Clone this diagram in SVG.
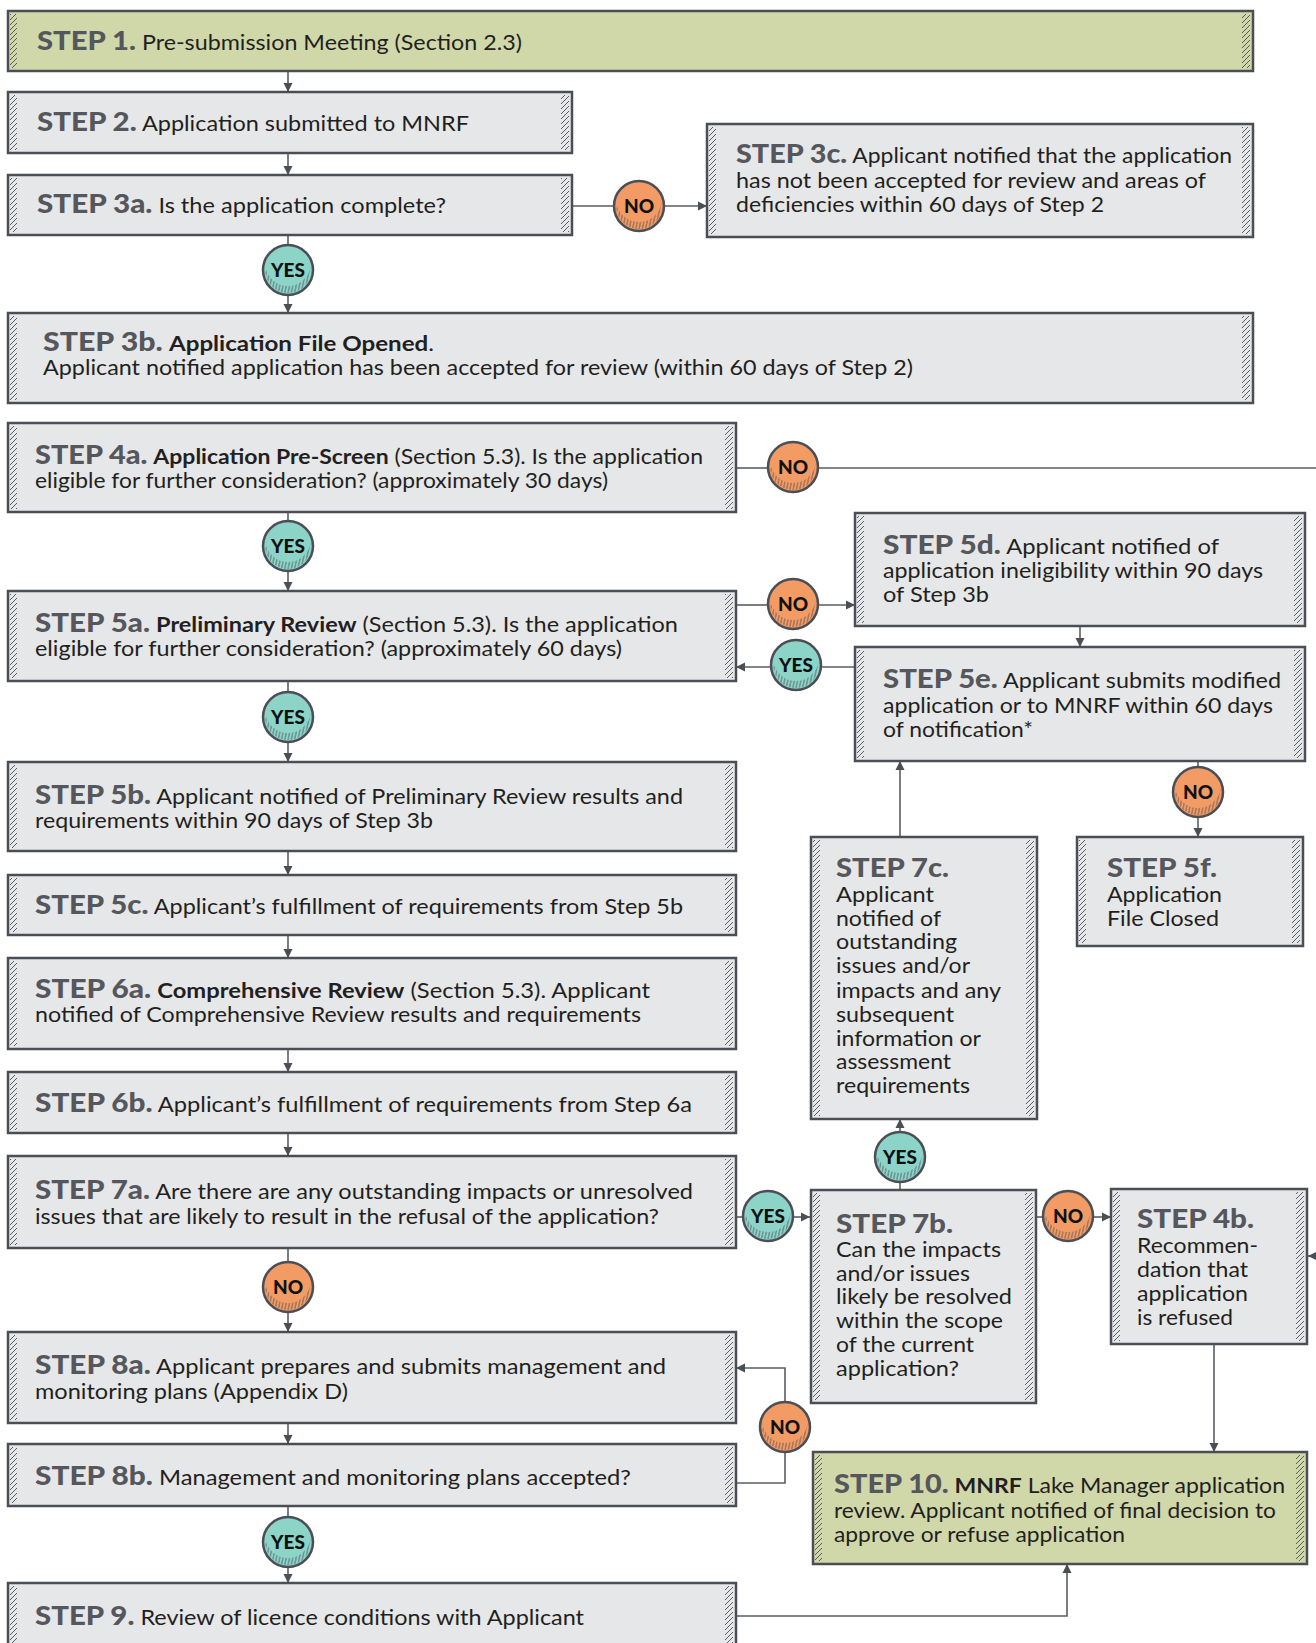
<svg xmlns="http://www.w3.org/2000/svg" xmlns:xlink="http://www.w3.org/1999/xlink" width="1316" height="1643" viewBox="0 0 1316 1643">
<style>
.box{fill:#e6e7e8;stroke:#4b4e55;stroke-width:2.5}
.green{fill:#d0d8aa}
.hl{fill:url(#hh)}
.c{fill:none;stroke:#5a5d63;stroke-width:1.6}
.ca{fill:none;stroke:#5a5d63;stroke-width:1.6;marker-end:url(#ah)}
text{font-family:"Lato","Liberation Sans",sans-serif;font-size:21.5px;fill:#231f20}
.l{font-weight:900;font-size:27px;fill:#55575c}
.b{font-weight:700;fill:#231f20}
.ct{font-weight:900;font-size:19px;fill:#111;text-anchor:middle}
</style>
<defs>
<pattern id="hh" width="5" height="5" patternUnits="userSpaceOnUse"><path d="M-1,1 L1,-1 M0,5 L5,0 M4,6 L6,4" stroke="#4b4e55" stroke-width="0.9"/></pattern>
<pattern id="ch" width="3.2" height="14" patternUnits="userSpaceOnUse" patternTransform="rotate(12)"><path d="M1.6,0 V14" stroke="#4b4e55" stroke-width="0.8"/></pattern>
<marker id="ah" markerWidth="10" markerHeight="10" refX="9" refY="5" orient="auto" markerUnits="userSpaceOnUse"><path d="M0,0.5 L9,5 L0,9.5 Z" fill="#4b4e55"/></marker>
<g id="noC"><circle r="25" fill="#f39b64" stroke="#4b4e55" stroke-width="2.5"/><path d="M-22.73,-3.5 A23,23 0 1 0 22.73,-3.5 A23,23 0 0 1 -22.73,-3.5 Z" fill="url(#ch)"/></g>
<g id="yesC"><circle r="25" fill="#8cd3c8" stroke="#4b4e55" stroke-width="2.5"/><path d="M-22.73,-3.5 A23,23 0 1 0 22.73,-3.5 A23,23 0 0 1 -22.73,-3.5 Z" fill="url(#ch)"/></g>
</defs>
<rect x="0" y="0" width="1316" height="1643" fill="#fff"/>

<g id="connectors">
<path class="ca" d="M288,71 V92"/>
<path class="ca" d="M288,153 V175"/>
<path class="c" d="M572,206 H614"/>
<path class="ca" d="M664,206 H707"/>
<path class="c" d="M288,235 V245"/>
<path class="ca" d="M288,295 V313"/>
<path class="c" d="M736,468 H768"/>
<path class="c" d="M818,468 H1316"/>
<path class="c" d="M288,512 V521"/>
<path class="ca" d="M288,571 V591"/>
<path class="c" d="M736,605 H768"/>
<path class="ca" d="M818,605 H855"/>
<path class="ca" d="M1080,626 V647"/>
<path class="c" d="M855,667 H821"/>
<path class="ca" d="M771,667 H736"/>
<path class="c" d="M288,681 V692"/>
<path class="ca" d="M288,742 V762"/>
<path class="ca" d="M288,851 V875"/>
<path class="ca" d="M288,935 V958"/>
<path class="ca" d="M288,1049 V1072"/>
<path class="ca" d="M288,1133 V1156"/>
<path class="c" d="M736,1217 H743"/>
<path class="ca" d="M793,1217 H810"/>
<path class="c" d="M900,1190 V1182"/>
<path class="ca" d="M900,1132 V1119"/>
<path class="ca" d="M900,837 V761"/>
<path class="c" d="M1198,761 V767"/>
<path class="ca" d="M1198,817 V837"/>
<path class="c" d="M1036,1217 H1043"/>
<path class="ca" d="M1093,1217 H1111"/>
<path class="ca" d="M1214,1344 V1452"/>
<path class="ca" d="M1320,1256 H1308"/>
<path class="c" d="M288,1248 V1262"/>
<path class="ca" d="M288,1312 V1332"/>
<path class="ca" d="M288,1423 V1444"/>
<path class="c" d="M736,1483 H785 V1452"/>
<path class="ca" d="M785,1402 V1368 H736"/>
<path class="c" d="M288,1506 V1517"/>
<path class="ca" d="M288,1567 V1583"/>
<path class="ca" d="M736,1616 H1067 V1564"/>
</g>

<g id="decisions">
<g id="no-3a"><use href="#noC" x="639" y="206"/><text class="ct" x="639" y="213">NO</text></g>
<g id="yes-3a"><use href="#yesC" x="288" y="270"/><text class="ct" x="288" y="277">YES</text></g>
<g id="no-4a"><use href="#noC" x="793" y="467"/><text class="ct" x="793" y="474">NO</text></g>
<g id="yes-4a"><use href="#yesC" x="288" y="546"/><text class="ct" x="288" y="553">YES</text></g>
<g id="no-5a"><use href="#noC" x="793" y="604"/><text class="ct" x="793" y="611">NO</text></g>
<g id="yes-5e"><use href="#yesC" x="796" y="665"/><text class="ct" x="796" y="672">YES</text></g>
<g id="yes-5a"><use href="#yesC" x="288" y="717"/><text class="ct" x="288" y="724">YES</text></g>
<g id="no-5e"><use href="#noC" x="1198" y="792"/><text class="ct" x="1198" y="799">NO</text></g>
<g id="yes-7b"><use href="#yesC" x="900" y="1157"/><text class="ct" x="900" y="1164">YES</text></g>
<g id="yes-7a"><use href="#yesC" x="768" y="1216"/><text class="ct" x="768" y="1223">YES</text></g>
<g id="no-7b"><use href="#noC" x="1068" y="1216"/><text class="ct" x="1068" y="1223">NO</text></g>
<g id="no-7a"><use href="#noC" x="288" y="1287"/><text class="ct" x="288" y="1294">NO</text></g>
<g id="no-8b"><use href="#noC" x="785" y="1427"/><text class="ct" x="785" y="1434">NO</text></g>
<g id="yes-8b"><use href="#yesC" x="288" y="1542"/><text class="ct" x="288" y="1549">YES</text></g>
</g>

<g id="step1"><rect class="box green" x="8" y="11" width="1245" height="60"/><rect class="hl" x="10" y="14" width="7" height="54"/><rect class="hl" x="1242" y="14" width="8" height="54"/>
<text x="37" y="50" textLength="485" lengthAdjust="spacingAndGlyphs"><tspan class="l">STEP 1.</tspan> Pre-submission Meeting (Section 2.3)</text></g>

<g id="step2"><rect class="box" x="8" y="92" width="564" height="61"/><rect class="hl" x="10" y="95" width="7" height="55"/><rect class="hl" x="561" y="95" width="8" height="55"/>
<text x="37" y="131" textLength="432" lengthAdjust="spacingAndGlyphs"><tspan class="l">STEP 2.</tspan> Application submitted to MNRF</text></g>

<g id="step3a"><rect class="box" x="8" y="175" width="564" height="60"/><rect class="hl" x="10" y="178" width="7" height="54"/><rect class="hl" x="561" y="178" width="8" height="54"/>
<text x="37" y="213" textLength="409" lengthAdjust="spacingAndGlyphs"><tspan class="l">STEP 3a.</tspan> Is the application complete?</text></g>

<g id="step3c"><rect class="box" x="707" y="124" width="546" height="113"/><rect class="hl" x="709" y="127" width="7" height="107"/><rect class="hl" x="1242" y="127" width="8" height="107"/>
<text x="736" y="163" textLength="496" lengthAdjust="spacingAndGlyphs"><tspan class="l">STEP 3c.</tspan> Applicant notified that the application</text>
<text x="736" y="188" textLength="470" lengthAdjust="spacingAndGlyphs">has not been accepted for review and areas of</text>
<text x="736" y="212" textLength="368" lengthAdjust="spacingAndGlyphs">deficiencies within 60 days of Step 2</text></g>

<g id="step3b"><rect class="box" x="8" y="313" width="1245" height="90"/><rect class="hl" x="10" y="316" width="7" height="84"/><rect class="hl" x="1242" y="316" width="8" height="84"/>
<text x="43" y="351" textLength="391" lengthAdjust="spacingAndGlyphs"><tspan class="l">STEP 3b.</tspan> <tspan class="b">Application File Opened</tspan>.</text>
<text x="43" y="375" textLength="870" lengthAdjust="spacingAndGlyphs">Applicant notified application has been accepted for review (within 60 days of Step 2)</text></g>

<g id="step4a"><rect class="box" x="8" y="423" width="728" height="89"/><rect class="hl" x="10" y="426" width="7" height="83"/><rect class="hl" x="725" y="426" width="8" height="83"/>
<text x="35" y="464" textLength="668" lengthAdjust="spacingAndGlyphs"><tspan class="l">STEP 4a.</tspan> <tspan class="b">Application Pre-Screen</tspan> (Section 5.3). Is the application</text>
<text x="35" y="488" textLength="573" lengthAdjust="spacingAndGlyphs">eligible for further consideration? (approximately 30 days)</text></g>

<g id="step5d"><rect class="box" x="855" y="513" width="450" height="113"/><rect class="hl" x="857" y="516" width="7" height="107"/><rect class="hl" x="1294" y="516" width="8" height="107"/>
<text x="883" y="554" textLength="336" lengthAdjust="spacingAndGlyphs"><tspan class="l">STEP 5d.</tspan> Applicant notified of</text>
<text x="883" y="578" textLength="380" lengthAdjust="spacingAndGlyphs">application ineligibility within 90 days</text>
<text x="883" y="602" textLength="106" lengthAdjust="spacingAndGlyphs">of Step 3b</text></g>

<g id="step5a"><rect class="box" x="8" y="591" width="728" height="90"/><rect class="hl" x="10" y="594" width="7" height="84"/><rect class="hl" x="725" y="594" width="8" height="84"/>
<text x="35" y="632" textLength="643" lengthAdjust="spacingAndGlyphs"><tspan class="l">STEP 5a.</tspan> <tspan class="b">Preliminary Review</tspan> (Section 5.3). Is the application</text>
<text x="35" y="656" textLength="587" lengthAdjust="spacingAndGlyphs">eligible for further consideration? (approximately 60 days)</text></g>

<g id="step5e"><rect class="box" x="855" y="647" width="450" height="114"/><rect class="hl" x="857" y="650" width="7" height="108"/><rect class="hl" x="1294" y="650" width="8" height="108"/>
<text x="883" y="688" textLength="398" lengthAdjust="spacingAndGlyphs"><tspan class="l">STEP 5e.</tspan> Applicant submits modified</text>
<text x="883" y="713" textLength="390" lengthAdjust="spacingAndGlyphs">application or to MNRF within 60 days</text>
<text x="883" y="737" textLength="150" lengthAdjust="spacingAndGlyphs">of notification*</text></g>

<g id="step5b"><rect class="box" x="8" y="762" width="728" height="89"/><rect class="hl" x="10" y="765" width="7" height="83"/><rect class="hl" x="725" y="765" width="8" height="83"/>
<text x="35" y="804" textLength="648" lengthAdjust="spacingAndGlyphs"><tspan class="l">STEP 5b.</tspan> Applicant notified of Preliminary Review results and</text>
<text x="35" y="828" textLength="398" lengthAdjust="spacingAndGlyphs">requirements within 90 days of Step 3b</text></g>

<g id="step7c"><rect class="box" x="811" y="837" width="226" height="282"/><rect class="hl" x="813" y="840" width="7" height="276"/><rect class="hl" x="1026" y="840" width="8" height="276"/>
<text class="l" x="836" y="877" textLength="113" lengthAdjust="spacingAndGlyphs">STEP 7c.</text>
<text x="836" y="902" textLength="98" lengthAdjust="spacingAndGlyphs">Applicant</text>
<text x="836" y="926" textLength="105" lengthAdjust="spacingAndGlyphs">notified of</text>
<text x="836" y="949" textLength="121" lengthAdjust="spacingAndGlyphs">outstanding</text>
<text x="836" y="973" textLength="134" lengthAdjust="spacingAndGlyphs">issues and/or</text>
<text x="836" y="998" textLength="165" lengthAdjust="spacingAndGlyphs">impacts and any</text>
<text x="836" y="1022" textLength="118" lengthAdjust="spacingAndGlyphs">subsequent</text>
<text x="836" y="1046" textLength="145" lengthAdjust="spacingAndGlyphs">information or</text>
<text x="836" y="1069" textLength="115" lengthAdjust="spacingAndGlyphs">assessment</text>
<text x="836" y="1093" textLength="134" lengthAdjust="spacingAndGlyphs">requirements</text></g>

<g id="step5f"><rect class="box" x="1077" y="837" width="226" height="109"/><rect class="hl" x="1079" y="840" width="7" height="103"/><rect class="hl" x="1292" y="840" width="8" height="103"/>
<text class="l" x="1107" y="877" textLength="110" lengthAdjust="spacingAndGlyphs">STEP 5f.</text>
<text x="1107" y="902" textLength="115" lengthAdjust="spacingAndGlyphs">Application</text>
<text x="1107" y="926" textLength="112" lengthAdjust="spacingAndGlyphs">File Closed</text></g>

<g id="step5c"><rect class="box" x="8" y="875" width="728" height="60"/><rect class="hl" x="10" y="878" width="7" height="54"/><rect class="hl" x="725" y="878" width="8" height="54"/>
<text x="35" y="914" textLength="648" lengthAdjust="spacingAndGlyphs"><tspan class="l">STEP 5c.</tspan> Applicant’s fulfillment of requirements from Step 5b</text></g>

<g id="step6a"><rect class="box" x="8" y="958" width="728" height="91"/><rect class="hl" x="10" y="961" width="7" height="85"/><rect class="hl" x="725" y="961" width="8" height="85"/>
<text x="35" y="998" textLength="615" lengthAdjust="spacingAndGlyphs"><tspan class="l">STEP 6a.</tspan> <tspan class="b">Comprehensive Review</tspan> (Section 5.3). Applicant</text>
<text x="35" y="1022" textLength="606" lengthAdjust="spacingAndGlyphs">notified of Comprehensive Review results and requirements</text></g>

<g id="step6b"><rect class="box" x="8" y="1072" width="728" height="61"/><rect class="hl" x="10" y="1075" width="7" height="55"/><rect class="hl" x="725" y="1075" width="8" height="55"/>
<text x="35" y="1112" textLength="657" lengthAdjust="spacingAndGlyphs"><tspan class="l">STEP 6b.</tspan> Applicant’s fulfillment of requirements  from Step 6a</text></g>

<g id="step7a"><rect class="box" x="8" y="1156" width="728" height="92"/><rect class="hl" x="10" y="1159" width="7" height="86"/><rect class="hl" x="725" y="1159" width="8" height="86"/>
<text x="35" y="1199" textLength="658" lengthAdjust="spacingAndGlyphs"><tspan class="l">STEP 7a.</tspan> Are there are any outstanding impacts or unresolved</text>
<text x="35" y="1224" textLength="624" lengthAdjust="spacingAndGlyphs">issues that are likely to result in the refusal of the application?</text></g>

<g id="step7b"><rect class="box" x="811" y="1190" width="225" height="213"/><rect class="hl" x="813" y="1193" width="7" height="207"/><rect class="hl" x="1025" y="1193" width="8" height="207"/>
<text class="l" x="836" y="1233" textLength="117" lengthAdjust="spacingAndGlyphs">STEP 7b.</text>
<text x="836" y="1257" textLength="165" lengthAdjust="spacingAndGlyphs">Can the impacts</text>
<text x="836" y="1281" textLength="134" lengthAdjust="spacingAndGlyphs">and/or issues</text>
<text x="836" y="1304" textLength="176" lengthAdjust="spacingAndGlyphs">likely be resolved</text>
<text x="836" y="1328" textLength="167" lengthAdjust="spacingAndGlyphs">within the scope</text>
<text x="836" y="1352" textLength="138" lengthAdjust="spacingAndGlyphs">of the current</text>
<text x="836" y="1376" textLength="123" lengthAdjust="spacingAndGlyphs">application?</text></g>

<g id="step4b"><rect class="box" x="1111" y="1189" width="196" height="155"/><rect class="hl" x="1113" y="1192" width="7" height="149"/><rect class="hl" x="1296" y="1192" width="8" height="149"/>
<text class="l" x="1137" y="1228" textLength="117" lengthAdjust="spacingAndGlyphs">STEP 4b.</text>
<text x="1137" y="1253" textLength="121" lengthAdjust="spacingAndGlyphs">Recommen-</text>
<text x="1137" y="1277" textLength="111" lengthAdjust="spacingAndGlyphs">dation that</text>
<text x="1137" y="1301" textLength="111" lengthAdjust="spacingAndGlyphs">application</text>
<text x="1137" y="1325" textLength="96" lengthAdjust="spacingAndGlyphs">is refused</text></g>

<g id="step8a"><rect class="box" x="8" y="1332" width="728" height="91"/><rect class="hl" x="10" y="1335" width="7" height="85"/><rect class="hl" x="725" y="1335" width="8" height="85"/>
<text x="35" y="1374" textLength="631" lengthAdjust="spacingAndGlyphs"><tspan class="l">STEP 8a.</tspan> Applicant prepares and submits management and</text>
<text x="35" y="1399" textLength="313" lengthAdjust="spacingAndGlyphs">monitoring plans (Appendix D)</text></g>

<g id="step8b"><rect class="box" x="8" y="1444" width="728" height="62"/><rect class="hl" x="10" y="1447" width="7" height="56"/><rect class="hl" x="725" y="1447" width="8" height="56"/>
<text x="35" y="1485" textLength="596" lengthAdjust="spacingAndGlyphs"><tspan class="l">STEP 8b.</tspan> Management and monitoring plans accepted?</text></g>

<g id="step10"><rect class="box green" x="813" y="1452" width="494" height="112"/><rect class="hl" x="815" y="1455" width="7" height="106"/><rect class="hl" x="1296" y="1455" width="8" height="106"/>
<text x="834" y="1493" textLength="451" lengthAdjust="spacingAndGlyphs"><tspan class="l">STEP 10.</tspan> <tspan class="b">MNRF</tspan> Lake Manager application</text>
<text x="834" y="1518" textLength="442" lengthAdjust="spacingAndGlyphs">review. Applicant notified of final decision to</text>
<text x="834" y="1542" textLength="291" lengthAdjust="spacingAndGlyphs">approve or refuse application</text></g>

<g id="step9"><rect class="box" x="8" y="1583" width="728" height="80"/><rect class="hl" x="10" y="1586" width="7" height="74"/><rect class="hl" x="725" y="1586" width="8" height="74"/>
<text x="35" y="1625" textLength="549" lengthAdjust="spacingAndGlyphs"><tspan class="l">STEP 9.</tspan> Review of licence conditions with Applicant</text></g>
</svg>
